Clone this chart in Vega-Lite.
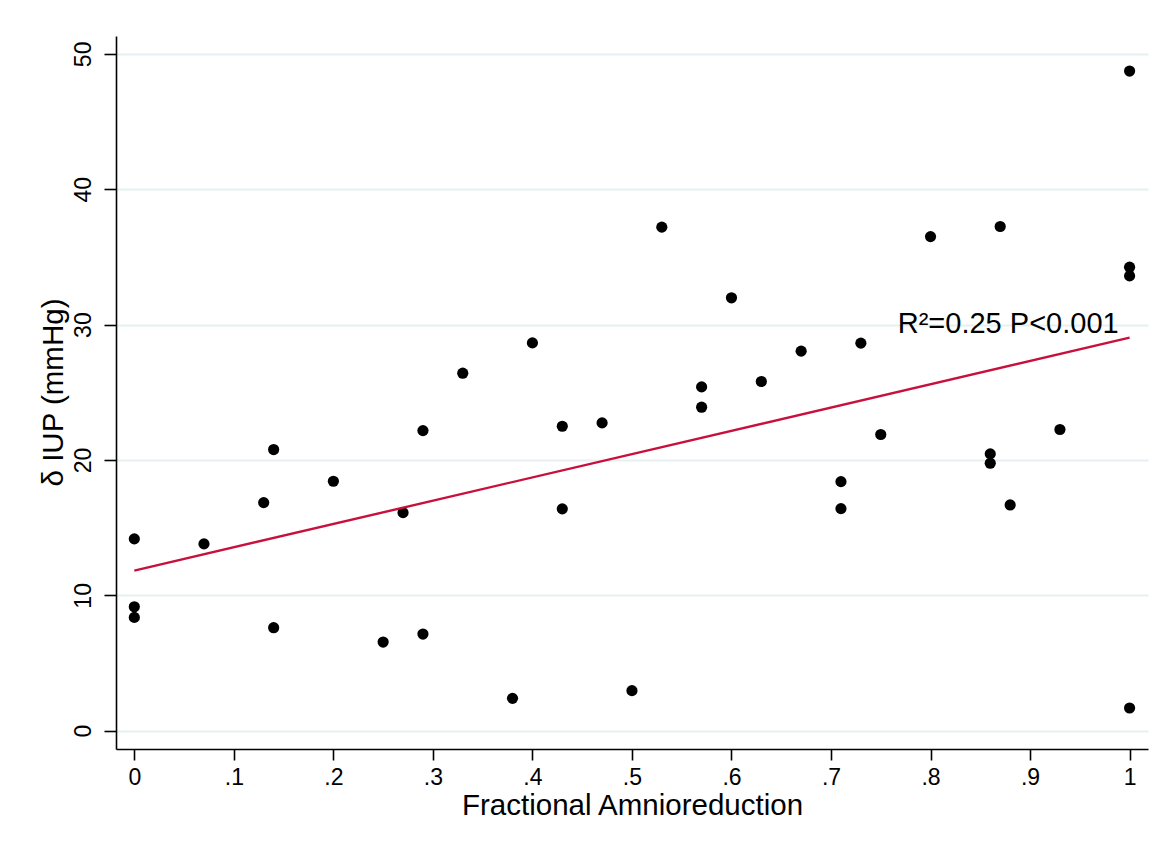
{
  "$schema": "https://vega.github.io/schema/vega-lite/v6.json",
  "width": 1032,
  "height": 713,
  "autosize": {"type": "none"},
  "padding": {"left": 116, "top": 36, "right": 28, "bottom": 108},
  "background": "white",
  "config": {
    "view": {"stroke": null},
    "font": "Liberation Sans",
    "axis": {
      "domainColor": "black",
      "domainWidth": 1.6,
      "tickColor": "black",
      "tickWidth": 1.6,
      "labelColor": "black",
      "titleColor": "black",
      "labelFont": "Liberation Sans",
      "titleFont": "Liberation Sans",
      "labelFontSize": 23,
      "titleFontSize": 29.5,
      "titleFontWeight": "normal",
      "gridColor": "#e6eff2",
      "gridWidth": 1.8
    }
  },
  "datasets": {
    "points": [
      {"frac": 0.00, "iup": 14.17},
      {"frac": 0.00, "iup": 9.16},
      {"frac": 0.00, "iup": 8.37},
      {"frac": 0.07, "iup": 13.8},
      {"frac": 0.13, "iup": 16.85},
      {"frac": 0.14, "iup": 20.77},
      {"frac": 0.14, "iup": 7.61},
      {"frac": 0.20, "iup": 18.43},
      {"frac": 0.25, "iup": 6.55},
      {"frac": 0.27, "iup": 16.11},
      {"frac": 0.29, "iup": 22.17},
      {"frac": 0.29, "iup": 7.14},
      {"frac": 0.33, "iup": 26.41},
      {"frac": 0.38, "iup": 2.39},
      {"frac": 0.40, "iup": 28.65},
      {"frac": 0.43, "iup": 22.49},
      {"frac": 0.43, "iup": 16.39},
      {"frac": 0.47, "iup": 22.74},
      {"frac": 0.50, "iup": 2.96},
      {"frac": 0.53, "iup": 37.2},
      {"frac": 0.57, "iup": 25.4},
      {"frac": 0.57, "iup": 23.9},
      {"frac": 0.60, "iup": 31.98},
      {"frac": 0.63, "iup": 25.8},
      {"frac": 0.67, "iup": 28.04},
      {"frac": 0.71, "iup": 18.4},
      {"frac": 0.71, "iup": 16.41},
      {"frac": 0.73, "iup": 28.63},
      {"frac": 0.75, "iup": 21.88},
      {"frac": 0.80, "iup": 36.5},
      {"frac": 0.86, "iup": 20.45},
      {"frac": 0.86, "iup": 19.76},
      {"frac": 0.87, "iup": 37.25},
      {"frac": 0.88, "iup": 16.68},
      {"frac": 0.93, "iup": 22.25},
      {"frac": 1.00, "iup": 48.73},
      {"frac": 1.00, "iup": 34.24},
      {"frac": 1.00, "iup": 33.6},
      {"frac": 1.00, "iup": 1.68}
    ],
    "fit": [
      {"frac": 0, "iup": 11.83},
      {"frac": 1, "iup": 29.04}
    ],
    "note": [
      {"frac": 0.989, "iup": 29.4, "label": "R²=0.25 P<0.001"}
    ]
  },
  "layer": [
    {
      "data": {"name": "points"},
      "mark": {"type": "circle", "size": 125, "color": "black", "opacity": 1},
      "encoding": {
        "x": {
          "field": "frac",
          "type": "quantitative",
          "scale": {"domain": [-0.0184, 1.0185], "nice": false, "zero": false},
          "axis": {
            "title": "Fractional Amnioreduction",
            "values": [0, 0.1, 0.2, 0.3, 0.4, 0.5, 0.6, 0.7, 0.8, 0.9, 1],
            "labelExpr": "replace(format(datum.value, '.1~f'), '0.', '.')",
            "grid": false,
            "tickSize": 11,
            "labelPadding": 6,
            "labelBaseline": "top",
            "titleX": 516,
            "titleY": 65,
            "titleBaseline": "alphabetic",
            "titleAlign": "center"
          }
        },
        "y": {
          "field": "iup",
          "type": "quantitative",
          "scale": {"domain": [-1.35, 51.32], "nice": false, "zero": false},
          "axis": {
            "title": "δ IUP (mmHg)",
            "values": [0, 10, 20, 30, 40, 50],
            "grid": true,
            "tickSize": 12,
            "labelAngle": 270,
            "labelAlign": "center",
            "labelBaseline": "bottom",
            "labelPadding": 9,
            "titleAngle": 270,
            "titleX": -54,
            "titleY": 356,
            "titleBaseline": "alphabetic",
            "titleAlign": "center"
          }
        }
      }
    },
    {
      "data": {"name": "fit"},
      "mark": {"type": "line", "color": "#c8103c", "strokeWidth": 2.4},
      "encoding": {
        "x": {"field": "frac", "type": "quantitative"},
        "y": {"field": "iup", "type": "quantitative"}
      }
    },
    {
      "data": {"name": "note"},
      "mark": {"type": "text", "align": "right", "baseline": "alphabetic", "fontSize": 29, "font": "Liberation Sans", "color": "black"},
      "encoding": {
        "x": {"field": "frac", "type": "quantitative"},
        "y": {"field": "iup", "type": "quantitative"},
        "text": {"field": "label"}
      }
    }
  ]
}
